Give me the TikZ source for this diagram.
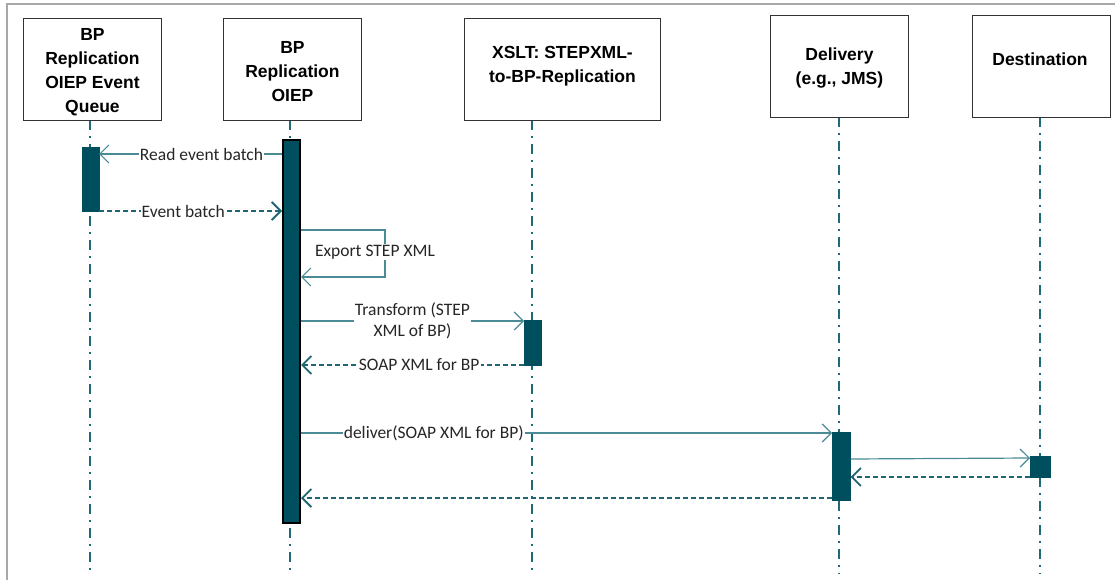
\documentclass[tikz,border=0pt]{standalone}
\usepackage{fontspec}
\setmainfont{Liberation Sans}
\newfontfamily\msgfont{Carlito}
\usetikzlibrary{arrows.meta}
\definecolor{actfill}{HTML}{004F5E}
\definecolor{lifec}{HTML}{1E6A77}
\definecolor{msgc}{HTML}{4A8B96}
\definecolor{retc}{HTML}{1F6572}
\definecolor{framec}{HTML}{A8A8A8}
\tikzset{
  x=1pt, y=-1pt,
  actor/.style={draw=black!80, line width=0.9pt, fill=white, minimum width=138pt, minimum height=102pt, anchor=north west, inner sep=0pt},
  atext/.style={font=\fontsize{17.5}{24}\selectfont\bfseries, align=center, inner sep=0pt},
  lifeline/.style={draw=lifec, line width=2pt, dash pattern=on 10pt off 6pt on 2pt off 6pt},
  act/.style={fill=actfill, draw=actfill, line width=0.5pt, anchor=north west, inner sep=0pt},
  actb/.style={fill=actfill, draw=black, line width=2pt, anchor=north west, inner sep=0pt},
  msg/.style={draw=msgc, line width=1.2pt, -{Straight Barb[length=9pt,width=18pt,line width=1.2pt]}},
  ret/.style={draw=retc, line width=2pt, dash pattern=on 5pt off 3pt, -{Straight Barb[length=9pt,width=18pt,line width=1.8pt]}},
  lbl/.style={fill=white, inner sep=1pt, font=\msgfont\fontsize{17.5}{21}\selectfont, text=black!85, align=center}
}
\begin{document}
\begin{tikzpicture}
\useasboundingbox (0,0) rectangle (1115,580);
\draw[framec, line width=1.2pt] (7,580) -- (7,4) -- (1115,4);
% lifelines
\draw[lifeline] (90,120) -- (90,574);
\draw[lifeline] (290,120) -- (290,574);
\draw[lifeline] (532,120) -- (532,574);
\draw[lifeline] (839,117) -- (839,574);
\draw[lifeline] (1040,117) -- (1040,574);
% actors
\node[actor] (q) at (23,18) {};
\node[atext] (ql) at ([yshift=-3pt]q.center) {BP\\Replication\\OIEP Event\\Queue};
\node[actor] (o) at (223,18) {};
\node[atext] (ol) at ([yshift=-2pt]o.center) {BP\\Replication\\OIEP};
\node[actor, minimum width=196pt] (x) at (464,18) {};
\node[atext] (xl) at ([yshift=3pt]x.center) {XSLT: STEPXML-\\to-BP-Replication};
\node[actor] (d) at (770,15) {};
\node[atext] (dl) at ([yshift=-2pt]d.center) {Delivery\\(e.g., JMS)};
\node[actor] (t) at (972,15) {};
\node[atext] (tl) at (1040,59) {Destination};
% activations
\node[act, minimum width=17pt, minimum height=64pt] (a1) at (81.5,147) {};
\node[actb, minimum width=17pt, minimum height=383pt] (a2) at (282,139) {};
\node[act, minimum width=17pt, minimum height=45pt] (a3) at (524,320) {};
\node[act, minimum width=18pt, minimum height=68pt] (a4) at (832,432) {};
\node[act, minimum width=20pt, minimum height=21pt] (a5) at (1030,456) {};
% messages
\draw[msg] (a2.west |- 0,154) -- node[lbl, pos=0.44] {Read event batch} (a1.east |- 0,154);
\draw[ret] (a1.east |- 0,211) -- node[lbl, pos=0.46] {Event batch} (a2.west |- 0,211);
\coordinate (s1) at (385,230);
\coordinate (s2) at (385,277);
\draw[msg] (a2.east |- 0,230) -- (s1) -- (s2) -- (a2.east |- 0,277);
\node[lbl] (el) at (375,252) {Export STEP XML};
\draw[msg] (a2.east |- 0,321) -- node[lbl] {Transform (STEP\\XML of BP)} (a3.west |- 0,321);
\draw[ret] (a3.west |- 0,365) -- node[lbl, pos=0.47] {SOAP XML for BP} (a2.east |- 0,365);
\draw[msg] (a2.east |- 0,433) -- node[lbl, pos=0.25] {deliver(SOAP XML for BP)} (a4.west |- 0,433);
\draw[msg] (a4.east |- 0,459) -- (a5.west |- 0,458);
\draw[ret] (a5.west |- 0,477) -- (a4.east |- 0,477);
\draw[ret] (a4.west |- 0,498) -- (a2.east |- 0,498);
\end{tikzpicture}
\end{document}
